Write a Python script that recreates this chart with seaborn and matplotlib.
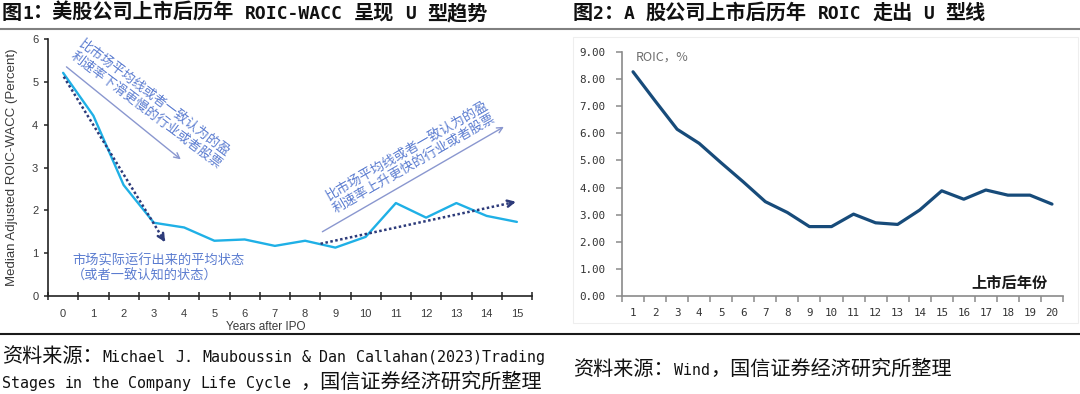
import re
import numpy as np
import pandas as pd
import matplotlib
matplotlib.use("Agg")
import matplotlib.pyplot as plt
import seaborn as sns
from matplotlib.font_manager import FontProperties
from matplotlib.patches import Rectangle
from matplotlib.lines import Line2D

# ---------------- data ----------------
us_years = [0, 1, 2, 3, 4, 5, 6, 7, 8, 9, 10, 11, 12, 13, 14, 15]
us_roic_wacc = [5.21, 4.21, 2.59, 1.71, 1.60, 1.29, 1.32, 1.17, 1.29, 1.13,
                1.38, 2.17, 1.83, 2.17, 1.87, 1.73]
us_yticks = [0, 1, 2, 3, 4, 5, 6]

a_years = list(range(1, 21))
a_roic = [8.27, 7.20, 6.15, 5.63, 4.91, 4.21, 3.48, 3.08, 2.56, 2.56,
          3.02, 2.70, 2.64, 3.17, 3.88, 3.57, 3.91, 3.72, 3.72, 3.39]
a_yticks = [0, 1, 2, 3, 4, 5, 6, 7, 8, 9]
a_ytick_labels = ["0.00", "1.00", "2.00", "3.00", "4.00", "5.00",
                  "6.00", "7.00", "8.00", "9.00"]

title_left = "图1：美股公司上市后历年 ROIC-WACC 呈现 U 型趋势"
title_right = "图2：A 股公司上市后历年 ROIC 走出 U 型线"
source_left_1 = "资料来源：Michael J. Mauboussin & Dan Callahan(2023)Trading"
source_left_2 = "Stages in the Company Life Cycle ，国信证券经济研究所整理"
source_right = "资料来源：Wind，国信证券经济研究所整理"

note_down = "比市场平均线或者一致认为的盈\n利速率下滑更慢的行业或者股票"
note_up = "比市场平均线或者一致认为的盈\n利速率上升更快的行业或者股票"
note_avg = "市场实际运行出来的平均状态\n（或者一致认知的状态）"

# annotation arrows (data coordinates of left panel)
solid_arrow_down = ((0.11, 5.35), (3.89, 3.19))
solid_arrow_up = ((8.57, 1.50), (14.57, 3.95))
dotted_arrow_down = ((0.02, 5.12), (3.37, 1.26))
dotted_arrow_up = ((8.51, 1.22), (14.97, 2.20))

# ---------------- style ----------------
sns.set_style("white")
plt.rcParams["font.family"] = ["Noto Sans CJK SC", "DejaVu Sans"]
plt.rcParams["axes.unicode_minus"] = False

W, H = 1080, 394
fig = plt.figure(figsize=(W / 100, H / 100), dpi=100)
fig.patch.set_facecolor("white")


def fx(px):
    return px / W


def fy(py):
    return 1 - py / H


def draw_runs(x_px, y_px, text, cjk_size, lat_size, weight="normal", color="black"):
    fp_c = FontProperties(family="Noto Sans CJK SC", size=cjk_size, weight=weight)
    fp_l = FontProperties(family="DejaVu Sans Mono", size=lat_size, weight=weight)
    cjk_px = cjk_size * 100 / 72
    lat_px = 0.602 * lat_size * 100 / 72
    x = x_px
    for tok in re.findall(r"[\u2e80-\uffff]+|[^\u2e80-\uffff\s]+|\s+", text):
        if tok.isspace():
            x += len(tok) * lat_px
        elif ord(tok[0]) >= 0x2E80:
            fig.text(fx(x), fy(y_px), tok, fontproperties=fp_c, color=color,
                     ha="left", va="baseline")
            x += len(tok) * cjk_px
        else:
            fig.text(fx(x), fy(y_px), tok, fontproperties=fp_l, color=color,
                     ha="left", va="baseline")
            x += len(tok) * lat_px


# titles / sources
draw_runs(2, 19, title_left, 14.5, 13, weight="bold", color="#111111")
draw_runs(573, 19, title_right, 14.5, 13, weight="bold", color="#111111")
draw_runs(2, 362, source_left_1, 14.5, 10.8, color="#111111")
draw_runs(2, 388, source_left_2, 14.5, 10.8, color="#111111")
draw_runs(573, 375, source_right, 14.5, 10.8, color="#111111")

# rules
fig.add_artist(Line2D([0, 1], [fy(28.5), fy(28.5)], color="#808080", lw=1.5,
                      transform=fig.transFigure))
fig.add_artist(Line2D([0, 1], [fy(334), fy(334)], color="#1a1a1a", lw=1.5,
                      transform=fig.transFigure))
# faint frame around the right chart
fig.add_artist(Rectangle((fx(573), fy(323)), fx(1078) - fx(573), fy(37) - fy(323),
                         transform=fig.transFigure, fill=False,
                         edgecolor="#eeeeee", lw=0.8))

# ---------------- left chart ----------------
ax1 = fig.add_axes([fx(48), fy(296), (532 - 48) / W, (296 - 39) / H])
df_us = pd.DataFrame({"year": us_years, "value": us_roic_wacc})
sns.lineplot(data=df_us, x="year", y="value", ax=ax1, color="#1fb0e6",
             lw=1.7, legend=False)
ax1.set_xlim(-0.5, 15.5)
ax1.set_ylim(0, 6)
for s in ["top", "right"]:
    ax1.spines[s].set_visible(False)
for s in ["left", "bottom"]:
    ax1.spines[s].set_color("#222222")
    ax1.spines[s].set_linewidth(1.2)
ax1.set_xticks(us_years)
ax1.set_xticklabels([str(v) for v in us_years], fontfamily="Liberation Sans",
                    fontsize=8, color="#3a3a3a")
ax1.set_xticks(np.arange(-0.5, 16, 1), minor=True)
ax1.tick_params(axis="x", which="major", length=0, pad=9.5)
ax1.tick_params(axis="x", which="minor", length=6, width=1.1, direction="inout",
                color="#222222", bottom=True)
ax1.set_yticks(us_yticks)
ax1.set_yticklabels([str(v) for v in us_yticks], fontfamily="Liberation Sans",
                    fontsize=8, color="#3a3a3a")
ax1.tick_params(axis="y", which="major", length=3, width=1.1, direction="out",
                color="#222222", pad=4, left=True)
ax1.set_ylabel("Median Adjusted ROIC-WACC (Percent)", fontfamily="Liberation Sans",
               fontsize=9.5, color="#3a3a3a")
ax1.yaxis.set_label_coords((18 - 48) / 484, 0.5)
ax1.set_xlabel("Years after IPO", fontfamily="Liberation Sans", fontsize=8.5,
               color="#3a3a3a")
ax1.xaxis.set_label_coords(0.45, (296 - 321) / 257)

note_color = "#5b7cd0"
for (p0, p1) in [solid_arrow_down, solid_arrow_up]:
    ax1.annotate("", xy=p1, xytext=p0,
                 arrowprops=dict(arrowstyle="->", color="#8a97cf", lw=1.0,
                                 shrinkA=0, shrinkB=0, mutation_scale=10))
for (p0, p1) in [dotted_arrow_down, dotted_arrow_up]:
    ax1.plot([p0[0], p1[0]], [p0[1], p1[1]], ls=(0, (1, 1)), color="#2d3b7a", lw=1.8)
    tip = np.array(p1)
    back = tip - 0.03 * (np.array(p1) - np.array(p0))
    ax1.annotate("", xy=tuple(tip), xytext=tuple(back),
                 arrowprops=dict(arrowstyle="->", color="#2d3b7a", lw=1.8,
                                 shrinkA=0, shrinkB=0, mutation_scale=11))

ax1.text(2.86, 4.46, note_down, rotation=-37, rotation_mode="anchor",
         ha="center", va="center", fontsize=9.5, color=note_color,
         multialignment="left", linespacing=1.15)
ax1.text(11.5, 3.22, note_up, rotation=30, rotation_mode="anchor",
         ha="center", va="center", fontsize=9.5, color=note_color,
         multialignment="left", linespacing=1.15)
ax1.text(0.29, 0.64, note_avg, ha="left", va="center", fontsize=9.5,
         color=note_color, linespacing=1.2)

# ---------------- right chart ----------------
ax2 = fig.add_axes([fx(622), fy(296), (1063 - 622) / W, (296 - 52) / H])
df_a = pd.DataFrame({"year": a_years, "roic": a_roic})
sns.lineplot(data=df_a, x="year", y="roic", ax=ax2, color="#174b7a",
             lw=2.3, legend=False)
ax2.set_xlim(0.5, 20.5)
ax2.set_ylim(0, 9)
for s in ["top", "right"]:
    ax2.spines[s].set_visible(False)
for s in ["left", "bottom"]:
    ax2.spines[s].set_color("#8a8a8a")
    ax2.spines[s].set_linewidth(1.2)
ax2.set_xticks(a_years)
ax2.set_xticklabels([str(v) for v in a_years], fontfamily="DejaVu Sans Mono",
                    fontsize=7.8, color="#333333")
ax2.set_xticks(np.arange(0.5, 21, 1), minor=True)
ax2.tick_params(axis="x", which="major", length=0, pad=9)
ax2.tick_params(axis="x", which="minor", length=4, width=1.1, direction="out",
                color="#8a8a8a", bottom=True)
ax2.set_yticks(a_yticks)
ax2.set_yticklabels(a_ytick_labels, fontfamily="DejaVu Sans Mono",
                    fontsize=7.8, color="#333333")
ax2.tick_params(axis="y", which="major", length=4, width=1.1, direction="out",
                color="#8a8a8a", pad=8, left=True)
ax2.set_xlabel("")
ax2.set_ylabel("")
ax2.text(1.14, 8.82, "ROIC，%", ha="left", va="center", fontsize=9,
         color="#6e6e6e")
ax2.text(18.08, 0.5, "上市后年份", ha="center", va="center", fontsize=11,
         fontweight="bold", color="#1a1a1a")

fig.savefig("out.png", dpi=100, facecolor="white")
